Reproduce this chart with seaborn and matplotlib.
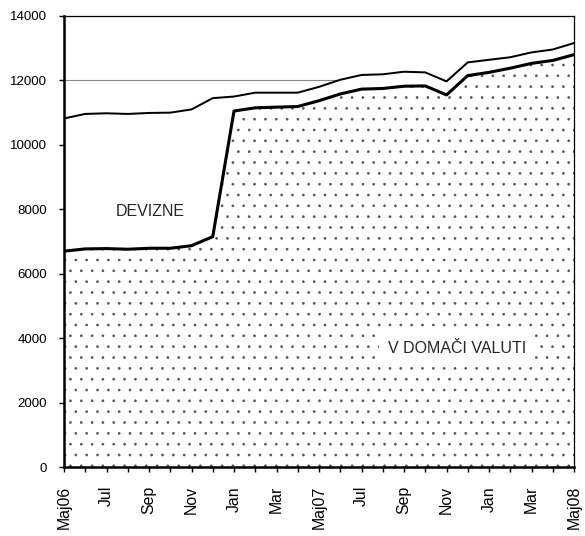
import numpy as np
import pandas as pd
import matplotlib
matplotlib.use("Agg")
import matplotlib.pyplot as plt
import seaborn as sns

months = ["Maj06", "Jun", "Jul", "Avg", "Sep", "Okt", "Nov", "Dec",
          "Jan", "Feb", "Mar", "Apr", "Maj07", "Jun", "Jul", "Avg",
          "Sep", "Okt", "Nov", "Dec", "Jan", "Feb", "Mar", "Apr", "Maj08"]
tick_labels = ["Maj06", "Jul", "Sep", "Nov", "Jan", "Mar", "Maj07",
               "Jul", "Sep", "Nov", "Jan", "Mar", "Maj08"]
domaci = [6700, 6770, 6780, 6760, 6790, 6790, 6870, 7150,
          11050, 11150, 11170, 11190, 11370, 11580, 11730, 11750,
          11820, 11830, 11550, 12150, 12250, 12380, 12530, 12620, 12800]
devizne = [4120, 4190, 4200, 4200, 4200, 4210, 4230, 4300,
           450, 470, 450, 430, 430, 440, 440, 440,
           450, 420, 420, 410, 390, 340, 340, 340, 360]
y_ticks = [0, 2000, 4000, 6000, 8000, 10000, 12000, 14000]

DPI = 130
sns.set_theme(style="white")
plt.rcParams["font.family"] = ["Liberation Sans", "DejaVu Sans"]
plt.rcParams["hatch.linewidth"] = 0.25

df = pd.DataFrame({"x": np.arange(len(months)), "domaci": domaci,
                   "devizne": devizne})
df["skupaj"] = df["domaci"] + df["devizne"]

fig = plt.figure(figsize=(585 / DPI, 536 / DPI), dpi=DPI)
ax = fig.add_axes([64 / 585, 1 - 467 / 536, (574 - 64) / 585, (467 - 16) / 536])

# grid (hidden below filled areas)
ax.yaxis.grid(True, color="#8a8a8a", linewidth=0.6, zorder=0)
ax.set_axisbelow(True)

ax.fill_between(df["x"], df["domaci"], df["skupaj"], facecolor="white",
                edgecolor="none", linewidth=0, zorder=1)
ax.fill_between(df["x"], 0, df["domaci"], facecolor="white",
                edgecolor="#505050", hatch="..", linewidth=0, zorder=1)

sns.lineplot(data=df, x="x", y="skupaj", ax=ax, color="black",
             linewidth=1.1, zorder=3)
sns.lineplot(data=df, x="x", y="domaci", ax=ax, color="black",
             linewidth=1.7, zorder=3)

ax.set_xlim(0, len(months) - 1)
ax.set_ylim(0, 14000)
ax.set_yticks(y_ticks)
ax.set_yticklabels([str(v) for v in y_ticks], fontsize=7.4)
ax.set_xticks(np.arange(0, len(months), 2))
ax.set_xticklabels(tick_labels, rotation=90, fontsize=8.8)
ax.set_xticks(np.arange(1, len(months), 2), minor=True)
ax.set_xlabel("")
ax.set_ylabel("")

ax.tick_params(axis="both", which="both", direction="out", length=2.5,
               width=0.8, color="black", labelcolor="black")
ax.tick_params(axis="x", which="both", bottom=True, pad=8)
ax.tick_params(axis="y", left=True, pad=7)

for side in ["left", "bottom"]:
    ax.spines[side].set_linewidth(1.4)
    ax.spines[side].set_color("black")
for side in ["top", "right"]:
    ax.spines[side].set_linewidth(0.7)
    ax.spines[side].set_color("black")
for s in ax.spines.values():
    s.set_zorder(5)

ax.text(4.05, 7925, "DEVIZNE", fontsize=8.9, ha="center", va="center",
        zorder=4)
ax.text(18.48, 3685, "V DOMAČI VALUTI", fontsize=8.9, ha="center",
        va="center", zorder=4,
        bbox=dict(facecolor="white", edgecolor="none", pad=5))

fig.savefig("out.png", dpi=DPI)
